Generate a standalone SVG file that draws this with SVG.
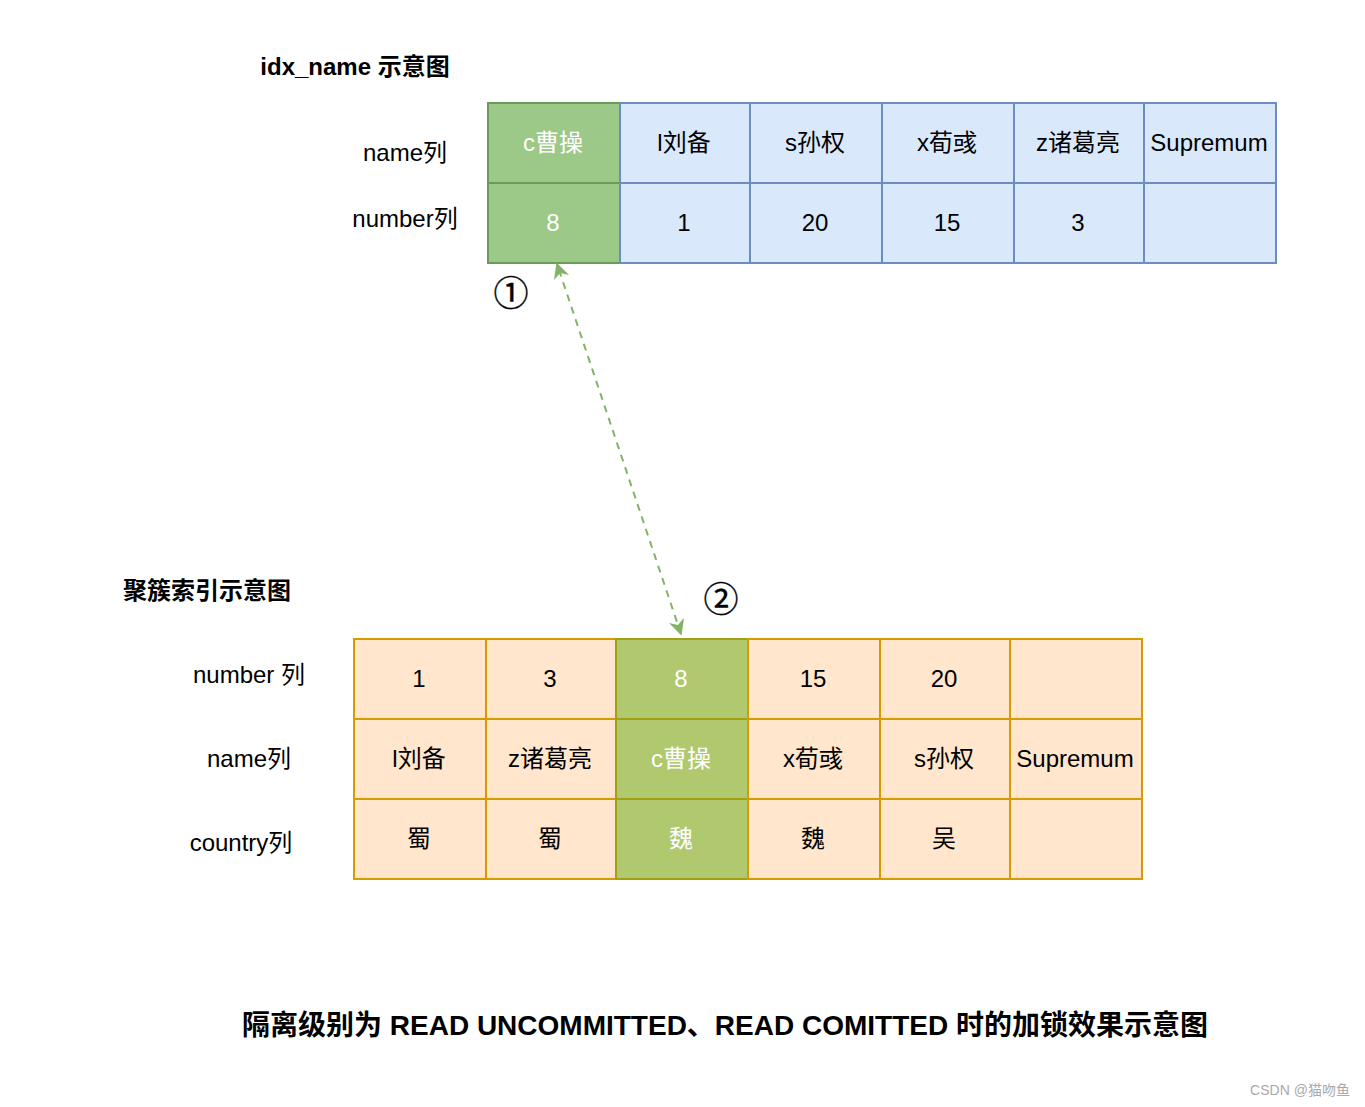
<svg xmlns="http://www.w3.org/2000/svg" width="1365" height="1107" viewBox="0 0 1365 1107">
<style>
text{font-family:"Liberation Sans",Arial,"Noto Sans CJK SC",sans-serif;font-size:24px;text-anchor:middle;fill:#000}
.t{font-weight:bold}
.w{fill:#fff}
.blue{fill:#dae8fc;stroke:#6c8ebf;stroke-width:2}
.g1{fill:#9cc888;stroke:#6a9a5c;stroke-width:2}
.org{fill:#ffe6cc;stroke:#d79b00;stroke-width:2}
.g2{fill:#b0c96f;stroke:#a0a010;stroke-width:2}
.circ{font-size:35px;stroke:#000;stroke-width:0.4}
</style>
<defs>
<marker id="ah" viewBox="0 0 10 10" refX="9" refY="5" markerWidth="16" markerHeight="16" orient="auto-start-reverse" markerUnits="userSpaceOnUse">
<path d="M0,0 L10,5 L0,10 L3,5 Z" fill="#82b366"/>
</marker>
</defs>
<rect width="1365" height="1107" fill="#fff"/>
<g id="titles">
<text class="t" x="355" y="75">idx_name 示意图</text>
<text class="t" x="207" y="599">聚簇索引示意图</text>
<text class="t" x="725" y="1035" style="font-size:28px">隔离级别为 READ UNCOMMITTED、READ COMITTED 时的加锁效果示意图</text>
</g>
<g id="top-labels">
<text x="405" y="161">name列</text>
<text x="405" y="227">number列</text>
</g>
<g id="idx-table">
<g id="t-c1"><rect class="g1" x="488" y="103" width="132" height="80"/><text class="w" x="553" y="151">c曹操</text></g>
<g id="t-c2"><rect class="blue" x="620" y="103" width="130" height="80"/><text x="684" y="151">l刘备</text></g>
<g id="t-c3"><rect class="blue" x="750" y="103" width="132" height="80"/><text x="815" y="151">s孙权</text></g>
<g id="t-c4"><rect class="blue" x="882" y="103" width="132" height="80"/><text x="947" y="151">x荀彧</text></g>
<g id="t-c5"><rect class="blue" x="1014" y="103" width="130" height="80"/><text x="1078" y="151">z诸葛亮</text></g>
<g id="t-c6"><rect class="blue" x="1144" y="103" width="132" height="80"/><text x="1209" y="151">Supremum</text></g>
<g id="t-n1"><rect class="g1" x="488" y="183" width="132" height="80"/><text class="w" x="553" y="231">8</text></g>
<g id="t-n2"><rect class="blue" x="620" y="183" width="130" height="80"/><text x="684" y="231">1</text></g>
<g id="t-n3"><rect class="blue" x="750" y="183" width="132" height="80"/><text x="815" y="231">20</text></g>
<g id="t-n4"><rect class="blue" x="882" y="183" width="132" height="80"/><text x="947" y="231">15</text></g>
<g id="t-n5"><rect class="blue" x="1014" y="183" width="130" height="80"/><text x="1078" y="231">3</text></g>
<g id="t-n6"><rect class="blue" x="1144" y="183" width="132" height="80"/></g>
</g>
<g id="bottom-labels">
<text x="249" y="683">number 列</text>
<text x="249" y="767">name列</text>
<text x="241" y="851">country列</text>
</g>
<g id="cluster-table">
<g id="b-n1"><rect class="org" x="354" y="639" width="132" height="80"/><text x="419" y="687">1</text></g>
<g id="b-n2"><rect class="org" x="486" y="639" width="130" height="80"/><text x="550" y="687">3</text></g>
<g id="b-n3"><rect class="g2" x="616" y="639" width="132" height="80"/><text class="w" x="681" y="687">8</text></g>
<g id="b-n4"><rect class="org" x="748" y="639" width="132" height="80"/><text x="813" y="687">15</text></g>
<g id="b-n5"><rect class="org" x="880" y="639" width="130" height="80"/><text x="944" y="687">20</text></g>
<g id="b-n6"><rect class="org" x="1010" y="639" width="132" height="80"/></g>
<g id="b-m1"><rect class="org" x="354" y="719" width="132" height="80"/><text x="419" y="767">l刘备</text></g>
<g id="b-m2"><rect class="org" x="486" y="719" width="130" height="80"/><text x="550" y="767">z诸葛亮</text></g>
<g id="b-m3"><rect class="g2" x="616" y="719" width="132" height="80"/><text class="w" x="681" y="767">c曹操</text></g>
<g id="b-m4"><rect class="org" x="748" y="719" width="132" height="80"/><text x="813" y="767">x荀彧</text></g>
<g id="b-m5"><rect class="org" x="880" y="719" width="130" height="80"/><text x="944" y="767">s孙权</text></g>
<g id="b-m6"><rect class="org" x="1010" y="719" width="132" height="80"/><text x="1075" y="767">Supremum</text></g>
<g id="b-c1"><rect class="org" x="354" y="799" width="132" height="80"/><text x="419" y="847">蜀</text></g>
<g id="b-c2"><rect class="org" x="486" y="799" width="130" height="80"/><text x="550" y="847">蜀</text></g>
<g id="b-c3"><rect class="g2" x="616" y="799" width="132" height="80"/><text class="w" x="681" y="847">魏</text></g>
<g id="b-c4"><rect class="org" x="748" y="799" width="132" height="80"/><text x="813" y="847">魏</text></g>
<g id="b-c5"><rect class="org" x="880" y="799" width="130" height="80"/><text x="944" y="847">吴</text></g>
<g id="b-c6"><rect class="org" x="1010" y="799" width="132" height="80"/></g>
</g>
<g id="connectors">
<line x1="681" y1="634" x2="557" y2="264" stroke="#82b366" stroke-width="2" stroke-dasharray="7 6" marker-start="url(#ah)" marker-end="url(#ah)"/>
</g>
<g id="markers">
<text class="circ" x="511" y="306">①</text>
<text class="circ" x="721" y="612">②</text>
</g>
<text x="1300" y="1095" style="font-size:14px;fill:#aaa">CSDN @猫吻鱼</text>
</svg>
